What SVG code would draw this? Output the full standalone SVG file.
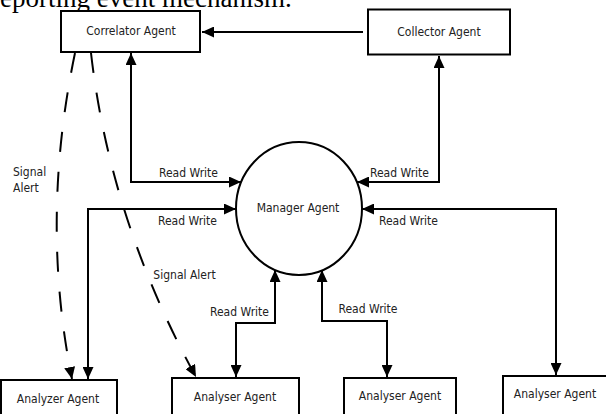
<svg xmlns="http://www.w3.org/2000/svg" width="606" height="414" viewBox="0 0 606 414">
<style>
.box{fill:#fff;stroke:#000;stroke-width:2}
.lbl{font-family:"DejaVu Sans Condensed","DejaVu Sans",sans-serif;font-size:12px;fill:#222;text-anchor:middle}
.lbll{font-family:"DejaVu Sans Condensed","DejaVu Sans",sans-serif;font-size:12px;fill:#222}
.ln{fill:none;stroke:#000;stroke-width:2}
.dash{fill:none;stroke:#000;stroke-width:2;stroke-dasharray:20 20}
.cap{font-family:"Liberation Serif",serif;font-size:27px;fill:#000}
</style>
<defs>
<marker id="ah" markerUnits="userSpaceOnUse" markerWidth="12" markerHeight="11" refX="12" refY="5.5" orient="auto-start-reverse">
<path d="M0,0 L12,5.5 L0,11 z" fill="#000"/>
</marker>
</defs>
<text class="cap" x="0" y="7">eporting event mechanism.</text>
<g id="connectors">
<path class="ln" d="M363,32 L202,32" marker-end="url(#ah)"/>
<path class="ln" d="M241,182 L131,182 L131,53" marker-start="url(#ah)" marker-end="url(#ah)"/>
<path class="ln" d="M357,182 L439,182 L439,56" marker-start="url(#ah)" marker-end="url(#ah)"/>
<path class="ln" d="M236,209 L88,209 L88,379" marker-start="url(#ah)" marker-end="url(#ah)"/>
<path class="ln" d="M362,209 L556,209 L556,375" marker-start="url(#ah)" marker-end="url(#ah)"/>
<path class="ln" d="M275,270 L275,323 L236,323 L236,377" marker-start="url(#ah)" marker-end="url(#ah)"/>
<path class="ln" d="M322,270 L322,321 L387,321 L387,377" marker-start="url(#ah)" marker-end="url(#ah)"/>
<path class="dash" d="M75,53 Q40,220 72,379" marker-end="url(#ah)"/>
<path class="dash" d="M91,53 Q110,220 196,377" marker-end="url(#ah)"/>
<text class="lbl" x="188.5" y="177">Read Write</text>
<text class="lbl" x="399.5" y="177">Read Write</text>
<text class="lbl" x="187.5" y="225">Read Write</text>
<text class="lbl" x="408.5" y="225">Read Write</text>
<text class="lbl" x="239.5" y="316">Read Write</text>
<text class="lbl" x="368" y="313">Read Write</text>
<text class="lbll" x="13" y="176">Signal</text>
<text class="lbll" x="13" y="192">Alert</text>
<text class="lbl" x="184.5" y="279">Signal Alert</text>
</g>
<g id="correlator">
<rect class="box" x="61" y="11" width="139" height="41"/>
<text class="lbl" x="131" y="35">Correlator Agent</text>
</g>
<g id="collector">
<rect class="box" x="368" y="9.5" width="142" height="45"/>
<text class="lbl" x="439" y="36">Collector Agent</text>
</g>
<g id="manager">
<ellipse class="box" cx="299" cy="208.5" rx="63" ry="66.5"/>
<text class="lbl" x="298" y="212">Manager Agent</text>
</g>
<g id="analyzer1">
<rect class="box" x="1" y="380" width="116" height="44"/>
<text class="lbl" x="58" y="403">Analyzer Agent</text>
</g>
<g id="analyser2">
<rect class="box" x="172" y="378" width="127" height="46"/>
<text class="lbl" x="235" y="401">Analyser Agent</text>
</g>
<g id="analyser3">
<rect class="box" x="344" y="378" width="112" height="46"/>
<text class="lbl" x="400" y="400">Analyser Agent</text>
</g>
<g id="analyser4">
<rect class="box" x="503" y="376" width="110" height="48"/>
<text class="lbl" x="555" y="398">Analyser Agent</text>
</g>
</svg>
